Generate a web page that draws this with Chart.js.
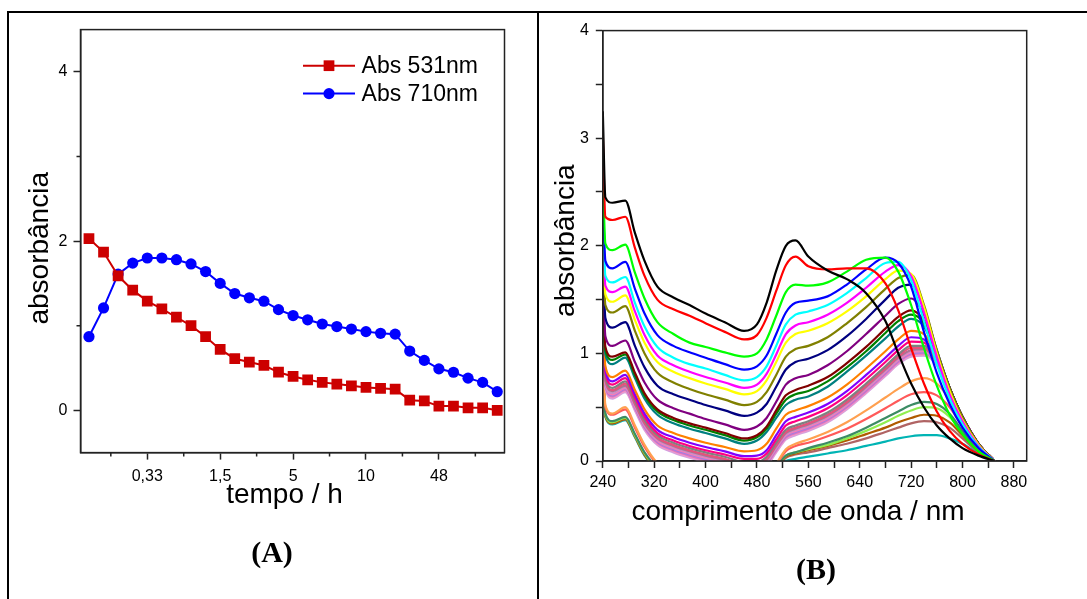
<!DOCTYPE html>
<html><head><meta charset="utf-8">
<script src="https://cdn.jsdelivr.net/npm/chart.js@4.4.1/dist/chart.umd.min.js"></script>
<style>
body{margin:0;background:#fff;width:1087px;height:599px;overflow:hidden;position:relative;font-family:"Liberation Sans",Arial,sans-serif;}
.ln{position:absolute;background:#000;}
#wa{position:absolute;left:10px;top:14px;width:526px;height:585px;}
#wb{position:absolute;left:540px;top:14px;width:547px;height:585px;}
.lab{position:absolute;font-family:"Liberation Serif","Times New Roman",serif;font-weight:bold;font-size:30px;transform:translate(-50%,-50%);color:#000;}
</style></head><body>
<div class="ln" style="left:7px;top:11px;width:1080px;height:2px"></div>
<div class="ln" style="left:7px;top:11px;width:2px;height:588px"></div>
<div class="ln" style="left:537px;top:11px;width:2px;height:588px"></div>
<div id="wa"><canvas id="ca"></canvas></div>
<div id="wb"><canvas id="cb"></canvas></div>
<div class="lab" style="left:272px;top:552px">(A)</div>
<div class="lab" style="left:816px;top:569px">(B)</div>
<script>
// ---------- Panel A data ----------
const timePos = [1,2,3,4,5,6,7,8,9,10,11,12,13,14,15,16,17,18,19,20,21,22,23,24,25,26,27,28,29];
const timeTickPos = [5,10,15,20,25];
const timeTickLabels = ['0,33','1,5','5','10','48'];
const abs531 = [2.03,1.87,1.59,1.42,1.29,1.20,1.10,1.00,0.87,0.72,0.61,0.57,0.53,0.45,0.40,0.36,0.33,0.31,0.29,0.27,0.26,0.25,0.12,0.11,0.05,0.05,0.03,0.03,0.00];
const abs710 = [0.87,1.21,1.61,1.74,1.80,1.80,1.78,1.73,1.64,1.50,1.38,1.33,1.29,1.19,1.12,1.07,1.02,0.99,0.96,0.93,0.91,0.90,0.70,0.59,0.49,0.45,0.38,0.33,0.22];
const seriesLabelsA = ['Abs 531nm','Abs 710nm'];

// ---------- Panel B data ----------
const wavelengths = [240,244,255,275,290,305,325,350,375,400,430,460,480,495,510,525,540,560,590,620,650,680,700,720,740,760,780,800,825,850];
const s01 = [3.25,2.45,2.40,2.42,2.12,1.86,1.62,1.52,1.45,1.37,1.29,1.21,1.27,1.47,1.77,2.00,2.05,1.90,1.77,1.69,1.56,1.30,1.00,0.72,0.50,0.33,0.21,0.12,0.05,0.00];
const s02 = [3.05,2.27,2.24,2.27,1.98,1.72,1.50,1.41,1.35,1.28,1.20,1.13,1.17,1.33,1.58,1.82,1.90,1.81,1.78,1.79,1.79,1.65,1.40,1.05,0.72,0.46,0.28,0.16,0.06,0.00];
const s03 = [2.70,2.02,1.96,2.01,1.75,1.51,1.29,1.18,1.10,1.06,1.01,0.97,1.00,1.13,1.35,1.57,1.64,1.63,1.66,1.76,1.87,1.89,1.76,1.45,1.05,0.70,0.43,0.25,0.09,0.00];
const s04 = [2.51,1.86,1.79,1.85,1.60,1.37,1.17,1.07,1.01,0.96,0.90,0.85,0.88,0.98,1.18,1.38,1.47,1.49,1.53,1.64,1.78,1.89,1.84,1.62,1.20,0.82,0.53,0.31,0.12,0.00];
const s05 = [2.35,1.72,1.66,1.71,1.47,1.25,1.06,0.96,0.90,0.86,0.80,0.75,0.78,0.88,1.07,1.27,1.36,1.39,1.45,1.56,1.70,1.84,1.85,1.68,1.30,0.90,0.58,0.34,0.13,0.00];
const s06 = [2.25,1.63,1.57,1.62,1.39,1.17,0.98,0.89,0.83,0.78,0.73,0.68,0.71,0.81,0.99,1.18,1.26,1.29,1.36,1.47,1.61,1.76,1.82,1.72,1.38,0.97,0.62,0.37,0.14,0.00];
const s07 = [2.12,1.55,1.48,1.54,1.31,1.10,0.92,0.83,0.77,0.72,0.67,0.62,0.65,0.75,0.92,1.10,1.18,1.21,1.28,1.39,1.53,1.69,1.77,1.74,1.43,1.00,0.65,0.38,0.15,0.00];
const s08 = [2.00,1.45,1.38,1.44,1.21,1.00,0.82,0.73,0.67,0.62,0.57,0.52,0.55,0.64,0.80,0.97,1.04,1.07,1.15,1.28,1.43,1.60,1.70,1.73,1.45,1.03,0.68,0.41,0.16,0.00];
const s09 = [1.90,1.33,1.24,1.29,1.07,0.87,0.70,0.62,0.57,0.52,0.47,0.42,0.45,0.53,0.69,0.85,0.92,0.95,1.03,1.16,1.32,1.50,1.61,1.64,1.42,1.03,0.68,0.41,0.16,0.00];
const s10 = [1.75,1.16,1.07,1.12,0.92,0.73,0.57,0.49,0.44,0.39,0.34,0.29,0.32,0.40,0.55,0.71,0.77,0.80,0.89,1.02,1.18,1.35,1.46,1.51,1.36,1.01,0.68,0.41,0.16,0.00];
const s11 = [1.60,1.06,0.97,1.01,0.82,0.63,0.48,0.40,0.35,0.31,0.26,0.21,0.24,0.32,0.47,0.61,0.66,0.70,0.78,0.91,1.06,1.23,1.34,1.40,1.30,1.00,0.68,0.41,0.16,0.00];
const s12 = [1.55,1.03,0.94,0.99,0.80,0.61,0.46,0.38,0.33,0.29,0.24,0.19,0.22,0.30,0.44,0.57,0.62,0.65,0.74,0.87,1.02,1.19,1.30,1.36,1.28,1.00,0.68,0.41,0.16,0.00];
const s13 = [1.50,0.99,0.90,0.96,0.77,0.58,0.43,0.35,0.30,0.26,0.21,0.16,0.19,0.27,0.40,0.52,0.57,0.60,0.69,0.83,0.98,1.14,1.25,1.32,1.25,0.99,0.68,0.41,0.16,0.00];
const s14 = [1.40,0.88,0.78,0.84,0.66,0.48,0.33,0.26,0.21,0.17,0.13,0.09,0.10,0.16,0.30,0.43,0.47,0.51,0.59,0.71,0.86,1.02,1.13,1.21,1.18,0.97,0.67,0.41,0.16,0.00];
const s15 = [1.35,0.85,0.74,0.80,0.62,0.44,0.29,0.22,0.17,0.13,0.09,0.045,0.05,0.10,0.24,0.37,0.41,0.45,0.53,0.65,0.80,0.96,1.07,1.15,1.13,0.95,0.66,0.41,0.16,0.00];
const s16 = [1.30,0.82,0.71,0.77,0.59,0.41,0.26,0.19,0.14,0.10,0.06,0.02,0.02,0.07,0.20,0.33,0.37,0.41,0.49,0.61,0.76,0.92,1.03,1.11,1.10,0.94,0.66,0.41,0.16,0.00];
const s17 = [1.25,0.78,0.68,0.74,0.56,0.38,0.24,0.17,0.12,0.08,0.04,-0.01,-0.01,0.04,0.17,0.29,0.33,0.37,0.45,0.57,0.72,0.88,0.99,1.07,1.07,0.93,0.66,0.41,0.16,0.00];
const s18 = [1.22,0.76,0.66,0.72,0.54,0.36,0.22,0.15,0.10,0.06,0.02,-0.03,-0.03,0.02,0.15,0.27,0.31,0.35,0.43,0.55,0.70,0.86,0.97,1.05,1.05,0.92,0.66,0.41,0.16,0.00];
const s19 = [1.20,0.75,0.65,0.70,0.53,0.35,0.21,0.14,0.09,0.05,0.01,-0.04,-0.04,0.01,0.14,0.26,0.30,0.34,0.42,0.54,0.69,0.85,0.96,1.03,1.04,0.92,0.66,0.41,0.16,0.00];
const s20 = [1.18,0.73,0.63,0.69,0.52,0.34,0.20,0.13,0.08,0.04,0.00,-0.05,-0.05,0.00,0.13,0.25,0.29,0.33,0.41,0.53,0.68,0.84,0.95,1.02,1.03,0.91,0.65,0.40,0.16,0.00];
const s21 = [1.16,0.72,0.62,0.68,0.51,0.33,0.19,0.12,0.07,0.03,-0.01,-0.06,-0.06,-0.01,0.12,0.24,0.28,0.32,0.40,0.52,0.67,0.83,0.94,1.01,1.02,0.91,0.65,0.40,0.16,0.00];
const s22 = [1.14,0.71,0.61,0.67,0.50,0.32,0.18,0.11,0.06,0.02,-0.02,-0.07,-0.07,-0.02,0.11,0.23,0.27,0.31,0.39,0.51,0.66,0.82,0.93,1.00,1.01,0.90,0.65,0.40,0.16,0.00];
const s23 = [1.12,0.70,0.60,0.66,0.49,0.31,0.17,0.10,0.05,0.01,-0.03,-0.08,-0.08,-0.03,0.10,0.22,0.26,0.30,0.38,0.50,0.65,0.81,0.92,0.99,1.00,0.90,0.65,0.40,0.16,0.00];
const s24 = [1.10,0.69,0.59,0.65,0.48,0.30,0.16,0.09,0.04,0.00,-0.04,-0.09,-0.09,-0.04,0.09,0.21,0.25,0.29,0.37,0.49,0.64,0.80,0.91,0.98,0.99,0.89,0.64,0.40,0.16,0.00];
const s25 = [1.08,0.68,0.58,0.64,0.47,0.29,0.15,0.08,0.03,-0.01,-0.05,-0.10,-0.10,-0.05,0.08,0.20,0.24,0.28,0.36,0.48,0.63,0.79,0.90,0.97,0.98,0.89,0.64,0.40,0.16,0.00];
const s26 = [1.00,0.52,0.44,0.50,0.33,0.15,-0.02,-0.12,-0.18,-0.22,-0.26,-0.30,-0.30,-0.20,-0.03,0.11,0.16,0.20,0.27,0.36,0.47,0.59,0.67,0.74,0.77,0.72,0.57,0.36,0.13,0.00];
const s27 = [0.98,0.50,0.43,0.48,0.31,0.13,-0.03,-0.13,-0.19,-0.23,-0.27,-0.31,-0.31,-0.21,-0.04,0.09,0.14,0.17,0.23,0.30,0.39,0.49,0.56,0.62,0.64,0.61,0.50,0.32,0.12,0.00];
const s28 = [0.95,0.44,0.37,0.41,0.25,0.08,-0.06,-0.15,-0.21,-0.25,-0.29,-0.33,-0.33,-0.22,-0.06,0.05,0.08,0.12,0.17,0.23,0.31,0.40,0.46,0.52,0.55,0.53,0.44,0.28,0.10,0.00];
const s29 = [0.94,0.43,0.36,0.40,0.24,0.07,-0.07,-0.16,-0.22,-0.26,-0.30,-0.34,-0.34,-0.23,-0.06,0.05,0.08,0.11,0.15,0.21,0.28,0.36,0.42,0.47,0.50,0.49,0.41,0.27,0.10,0.00];
const s30 = [0.93,0.42,0.35,0.39,0.23,0.06,-0.08,-0.17,-0.23,-0.27,-0.31,-0.35,-0.35,-0.24,-0.07,0.04,0.07,0.10,0.14,0.19,0.25,0.31,0.36,0.40,0.43,0.42,0.36,0.24,0.09,0.00];
const s31 = [0.92,0.42,0.35,0.39,0.23,0.06,-0.08,-0.17,-0.23,-0.27,-0.31,-0.35,-0.35,-0.24,-0.08,0.03,0.06,0.08,0.12,0.16,0.21,0.27,0.31,0.35,0.37,0.36,0.31,0.21,0.08,0.00];
const s32 = [0.92,0.41,0.34,0.38,0.22,0.05,-0.09,-0.18,-0.24,-0.28,-0.32,-0.36,-0.36,-0.25,-0.09,0.00,0.02,0.04,0.07,0.10,0.14,0.18,0.21,0.23,0.24,0.24,0.21,0.16,0.07,0.00];
const spectra = [s01,s02,s03,s04,s05,s06,s07,s08,s09,s10,s11,s12,s13,s14,s15,s16,s17,s18,s19,s20,s21,s22,s23,s24,s25,s26,s27,s28,s29,s30,s31,s32];
const spectraColors = ['#000000','#FF0000','#00FF00','#0000FF','#00FFFF','#FF00FF','#FFFF00','#808000','#000080','#800080','#800000','#008000','#008080','#FF8000','#8000FF','#FF0080','#808080',
 '#E8507A','#B07090','#C890C8','#FF78B4','#A080E0','#E070C0','#F09AC8','#D4A0E0',
 '#FFA050','#FF5A5A','#3C8C64','#90EE50','#B05A00','#B06464','#00B4B4'];

// ---------- Shared ----------
const FONT = "'Liberation Sans', Arial, sans-serif";
Chart.defaults.font.family = FONT;
Chart.defaults.color = '#000';

const framePlugin = {
  id: 'frame',
  afterDatasetsDraw(chart) {
    const {ctx, chartArea: a} = chart;
    ctx.save();
    ctx.strokeStyle = '#222'; ctx.lineWidth = 1.5;
    ctx.strokeRect(a.left, a.top, a.right - a.left, a.bottom - a.top);
    ctx.restore();
  }
};

const titlesPlugin = {
  id: 'titles',
  afterDraw(chart, args, opts) {
    const ctx = chart.ctx;
    ctx.save();
    ctx.fillStyle = '#000';
    ctx.font = opts.size + 'px ' + FONT;
    ctx.textAlign = 'center'; ctx.textBaseline = 'middle';
    ctx.fillText(opts.xText, opts.xPos[0], opts.xPos[1]);
    ctx.translate(opts.yPos[0], opts.yPos[1]);
    ctx.rotate(-Math.PI / 2);
    ctx.fillText(opts.yText, 0, 0);
    ctx.restore();
  }
};

// minor ticks (shorter) for panel A
const minorTicksPlugin = {
  id: 'minorTicks',
  afterDraw(chart, args, opts) {
    if (!opts.x) return;
    const {ctx, chartArea: a, scales} = chart;
    ctx.save();
    ctx.strokeStyle = '#222'; ctx.lineWidth = 1.5;
    ctx.beginPath();
    opts.x.forEach(v => { const p = scales.x.getPixelForValue(v); ctx.moveTo(p, a.bottom); ctx.lineTo(p, a.bottom + 4); });
    opts.y.forEach(v => { const p = scales.y.getPixelForValue(v); ctx.moveTo(a.left, p); ctx.lineTo(a.left - 4, p); });
    ctx.stroke();
    ctx.restore();
  }
};

const legendInPlugin = {
  id: 'legendIn',
  afterDraw(chart, args, o) {
    if (!o.items) return;
    const ctx = chart.ctx;
    ctx.save();
    o.items.forEach((it, i) => {
      const ds = chart.data.datasets[i];
      ctx.strokeStyle = ds.borderColor; ctx.lineWidth = 2;
      ctx.beginPath(); ctx.moveTo(o.x0, it.y); ctx.lineTo(o.x1, it.y); ctx.stroke();
      ctx.fillStyle = ds.borderColor;
      Chart.helpers.drawPoint(ctx, {pointStyle: ds.pointStyle, radius: ds.pointRadius, borderWidth: 0}, (o.x0 + o.x1) / 2, it.y);
      ctx.fillStyle = '#000';
      ctx.font = o.size + 'px ' + FONT;
      ctx.textAlign = 'left'; ctx.textBaseline = 'middle';
      ctx.fillText(ds.label, o.tx, it.y + 1);
    });
    ctx.restore();
  }
};

// ---------- Panel A chart ----------
new Chart(document.getElementById('ca'), {
  type: 'line',
  data: {
    datasets: [
      {label: seriesLabelsA[0], data: timePos.map((x, i) => ({x, y: abs531[i]})), borderColor: '#CC0000', backgroundColor: '#CC0000',
       borderWidth: 2, pointStyle: 'rect', pointRadius: 7.6, pointBorderWidth: 0, pointBackgroundColor: '#CC0000'},
      {label: seriesLabelsA[1], data: timePos.map((x, i) => ({x, y: abs710[i]})), borderColor: '#0000FF', backgroundColor: '#0000FF',
       borderWidth: 2, pointStyle: 'circle', pointRadius: 5.6, pointBorderWidth: 0, pointBackgroundColor: '#0000FF'}
    ]
  },
  options: {
    animation: false, responsive: true, maintainAspectRatio: false, devicePixelRatio: 1,
    layout: {padding: {top: 13.5, right: 31.5, left: 0, bottom: 0}},
    plugins: {
      legend: {display: false}, tooltip: {enabled: false},
      titles: {size: 28, xText: 'tempo / h', xPos: [274.5, 481], yText: 'absorbância', yPos: [30.6, 234.3]},
      minorTicks: {x: [2.5, 7.5, 12.5, 17.5, 22.5, 27.5], y: [1, 3]},
      legendIn: {x0: 293, x1: 345, tx: 351.6, size: 23, items: [{y: 51.7}, {y: 79.6}]}
    },
    scales: {
      x: {
        type: 'linear', min: 0.42, max: 29.5,
        afterBuildTicks: s => { s.ticks = timeTickPos.map(v => ({value: v})); },
        afterFit: s => { s.height = 146.4; },
        grid: {display: true, drawOnChartArea: false, drawTicks: true, tickLength: 7, tickWidth: 1.5, tickColor: '#222'},
        border: {display: true, color: '#222', width: 1.5},
        ticks: {autoSkip: false, maxRotation: 0, padding: 7, font: {size: 16},
          callback: v => { const k = timeTickPos.indexOf(v); return k >= 0 ? timeTickLabels[k] : ''; }}
      },
      y: {
        type: 'linear', min: -0.5, max: 4.5,
        afterBuildTicks: s => { s.ticks = [0, 2, 4].map(v => ({value: v})); },
        afterFit: s => { s.width = 70.5; },
        grid: {display: true, drawOnChartArea: false, drawTicks: true, tickLength: 7, tickWidth: 1.5, tickColor: '#222'},
        border: {display: true, color: '#222', width: 1.5},
        ticks: {padding: 6, font: {size: 16}, callback: v => String(v)}
      }
    }
  },
  plugins: [framePlugin, titlesPlugin, minorTicksPlugin, legendInPlugin]
});

// ---------- Panel B chart ----------
const bTicks = [];
for (let w = 240; w <= 880; w += 40) bTicks.push(w);
const bYTicks = [0, 0.5, 1, 1.5, 2, 2.5, 3, 3.5, 4];

new Chart(document.getElementById('cb'), {
  type: 'line',
  data: {
    datasets: spectra.map((arr, i) => ({
      label: 'espectro ' + (i + 1),
      data: wavelengths.map((w, j) => ({x: w, y: arr[j]})),
      borderColor: spectraColors[i], borderWidth: 2.2, pointRadius: 0,
      cubicInterpolationMode: 'monotone', clip: 0
    }))
  },
  options: {
    animation: false, responsive: true, maintainAspectRatio: false, devicePixelRatio: 1,
    layout: {padding: {top: 7.8, right: 60.3, left: 0, bottom: 0}},
    plugins: {
      legend: {display: false}, tooltip: {enabled: false},
      titles: {size: 28, xText: 'comprimento de onda / nm', xPos: [258, 498], yText: 'absorbância', yPos: [26, 226.6]}
    },
    scales: {
      x: {
        type: 'linear', min: 240, max: 900,
        afterBuildTicks: s => { s.ticks = bTicks.map(v => ({value: v})); },
        afterFit: s => { s.height = 138; },
        grid: {display: true, drawOnChartArea: false, drawTicks: true, tickLength: 7, tickWidth: 1.5, tickColor: '#222'},
        border: {display: true, color: '#222', width: 1.5},
        ticks: {autoSkip: false, maxRotation: 0, padding: 4.6, font: {size: 16},
          callback: v => ((v - 240) % 80 === 0 ? String(v) : '')}
      },
      y: {
        type: 'linear', min: 0, max: 4,
        afterBuildTicks: s => { s.ticks = bYTicks.map(v => ({value: v})); },
        afterFit: s => { s.width = 62.8; },
        grid: {display: true, drawOnChartArea: false, drawTicks: true, tickLength: 7, tickWidth: 1.5, tickColor: '#222'},
        border: {display: true, color: '#222', width: 1.5},
        ticks: {padding: 7, font: {size: 16}, callback: v => (Number.isInteger(v) ? String(v) : '')}
      }
    }
  },
  plugins: [framePlugin, titlesPlugin]
});
</script>
</body></html>
